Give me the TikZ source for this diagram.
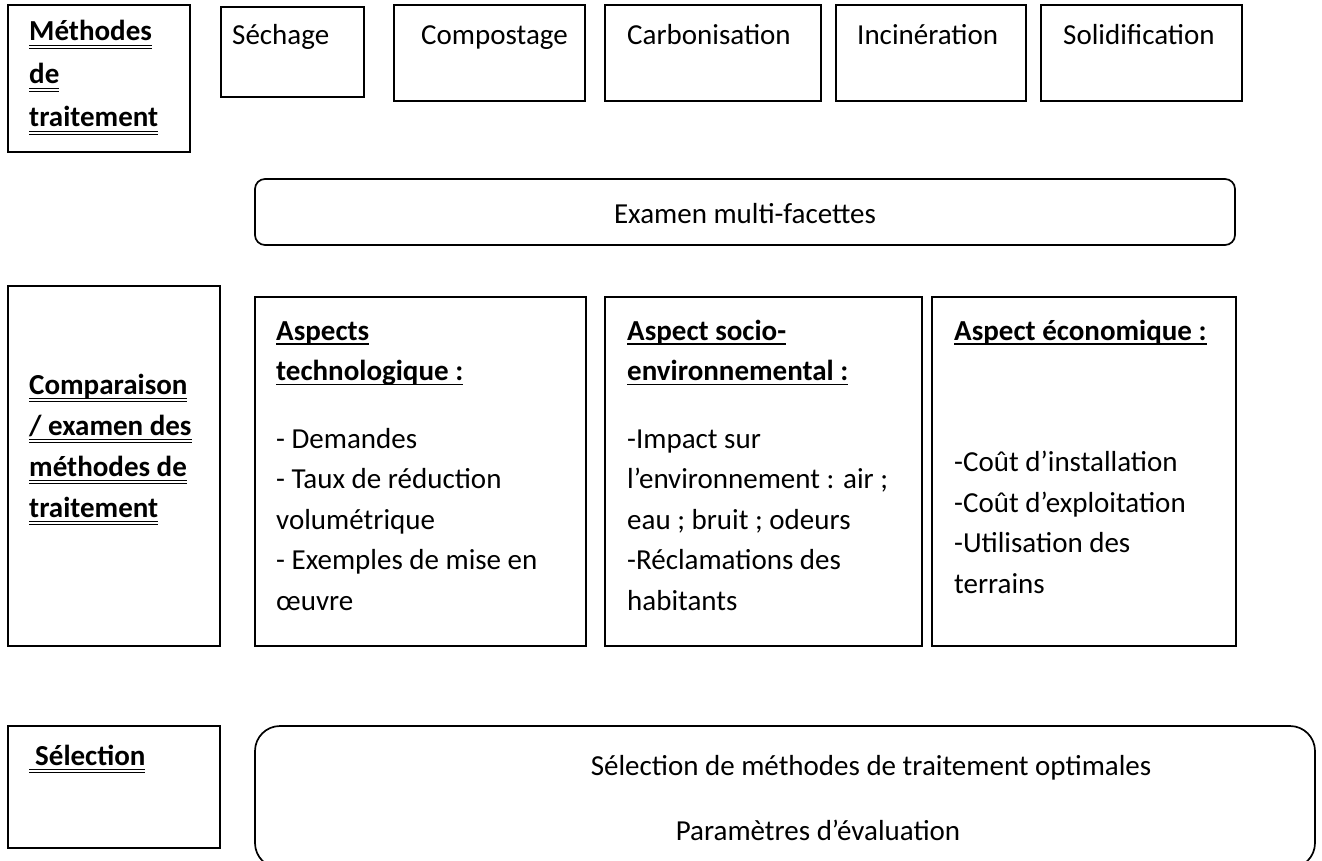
\documentclass[tikz,border=0pt]{standalone}
\usepackage{fontspec}
\setmainfont{Carlito}
\newlength{\ulw}
% soulignement simple et double
\newcommand{\sul}[1]{\leavevmode\settowidth{\ulw}{#1}\rlap{\rule[-4.5pt]{\ulw}{1.3pt}}#1}
\newcommand{\dul}[1]{\leavevmode\settowidth{\ulw}{#1}\rlap{\rule[-4.8pt]{\ulw}{1.2pt}}\rlap{\rule[-7.8pt]{\ulw}{1.2pt}}#1}
\newcommand{\cadre}[4]{\draw[cadre] ( #1 , #2 ) rectangle ( #3 , #4 );}
\newcommand{\cadrer}[5]{\draw[cadre, rounded corners=#5] ( #1 , #2 ) rectangle ( #3 , #4 );}
\tikzset{
  cadre/.style={line width=1.7pt},
  txt/.style={font={\fontsize{29}{40.5}\selectfont}, inner sep=0pt, anchor=base west, text width=300pt, align=flush left},
  txtb/.style={txt, font={\fontsize{29}{41}\selectfont\bfseries}},
  txtc/.style={font={\fontsize{29}{40.5}\selectfont}, inner sep=0pt, anchor=base}
}

\begin{document}
\begin{tikzpicture}[x=1pt, y=-1pt]
    \fill[white] (0,0) rectangle (1322,861);
    \clip (0,0) rectangle (1322,861);

    % methodes de traitement
    \cadre{8}{5}{190}{152}
    \cadre{221}{7}{364}{97}
    \cadre{394}{5}{585}{101}
    \cadre{605}{5}{821}{101}
    \cadre{836}{5}{1026}{101}
    \cadre{1041}{5}{1242}{101}
    \node[txtb, font={\fontsize{29}{43}\selectfont\bfseries}] (methodes) at (29,41) {\dul{Méthodes}\\\dul{de}\\\dul{traitement}};
    \foreach \x/\nom/\t in {232/sechage/Séchage, 421/compostage/Compostage, 627/carbonisation/Carbonisation, 857/incineration/Incinération, 1063/solidification/Solidification}
        \node[txt] (\nom) at (\x,45) {\t};

    % examen
    \cadrer{255}{179}{1235}{245}{10pt}
    \node[txtc] (examen) at (745,223) {Examen multi-facettes};

    % comparaison
    \cadre{8}{286}{220}{646}
    \cadre{255}{297}{586}{646}
    \cadre{605}{297}{922}{646}
    \cadre{932}{297}{1236}{646}
    \node[txtb] (comparaison) at (29,394) {\dul{Comparaison}\\\dul{/ examen des}\\\dul{méthodes de}\\\dul{traitement}};
    \node[txt] (techno) at (276,340) {\textbf{\sul{Aspects}}\\\textbf{\sul{technologique :}}\\[27pt]- Demandes\\- Taux de réduction\\volumétrique\\- Exemples de mise en\\œuvre};
    \node[txt] (socio) at (627,340) {\textbf{\sul{Aspect socio-}}\\\textbf{\sul{environnemental :}}\\[27pt]-Impact sur\\l’environnement : air ;\\eau ; bruit ; odeurs\\-Réclamations des\\habitants};
    \node[txt] (eco) at (954,340) {\textbf{\sul{Aspect économique :}}\\[91pt]-Coût d’installation\\-Coût d’exploitation\\-Utilisation des\\terrains};

    % selection
    \cadre{8}{726}{220}{848}
    \cadrer{255}{726}{1315}{868}{25pt}
    \node[txtb] (selection) at (29,765) {\dul{\hspace*{6pt}Sélection}};
    \node[txtc] (optimales) at (871,775) {Sélection de méthodes de traitement optimales};
    \node[txtc] (parametres) at (818,840) {Paramètres d’évaluation};
\end{tikzpicture}
\end{document}
